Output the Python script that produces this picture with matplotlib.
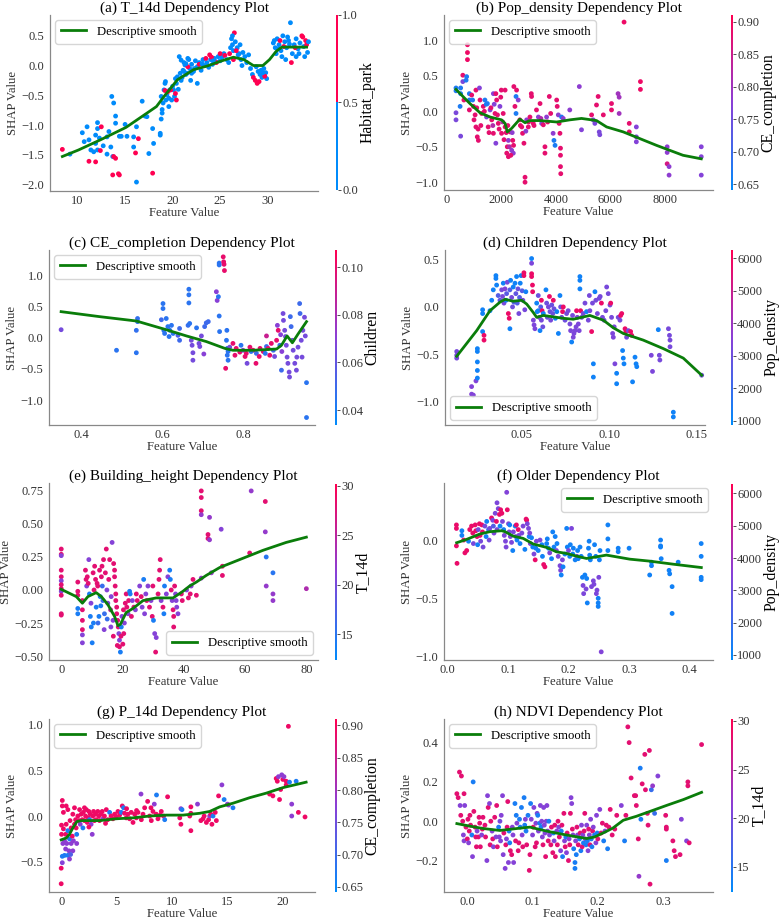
import matplotlib
matplotlib.use("Agg")
import matplotlib.pyplot as plt
from matplotlib.colors import LinearSegmentedColormap, ListedColormap

plt.rcParams['font.family'] = ['Liberation Serif', 'DejaVu Serif']

# ---------------- data (x, shap, colour value) ----------------
# (a) T_14d, coloured by Habitat_park
a_pts = [
    (8.4, -1.41, 1), (9.2, -1.49, 0), (10.5, -1.13, 0), (11.0, -1.03, 0), (11.2, -1.25, 0), (10.7, -1.28, 0),
    (11.4, -1.42, 0), (11.2, -1.61, 1), (11.7, -1.45, 0), (11.9, -1.31, 0), (11.9, -1.17, 0), (12.1, -1.06, 0),
    (12.1, -0.96, 0), (11.9, -1.62, 1), (12.1, -1.42, 0), (12.5, -1.03, 1), (12.4, -1.43, 1), (12.3, -1.22, 0),
    (12.7, -1.35, 0), (13.1, -1.49, 0), (13.1, -1.2, 0), (13.3, -1.11, 0), (13.5, -1.37, 0), (13.6, -0.52, 0),
    (13.7, -1.53, 0), (13.7, -1.84, 1), (13.8, -0.63, 0), (13.8, -1.53, 1), (14.0, -0.85, 0), (14.0, -0.97, 0),
    (14.0, -1.56, 1), (14.4, -1.84, 1), (14.3, -1.82, 1), (14.4, -1.19, 0), (14.6, -1.19, 0), (15.0, -0.99, 0),
    (15.2, -1.19, 0), (15.9, -1.37, 0), (15.9, -1.2, 0), (16.1, -1.47, 1), (16.2, -1.03, 0), (16.2, -1.96, 0),
    (16.4, -1.23, 1), (16.8, -0.6, 0), (17.1, -0.85, 0), (17.3, -0.86, 0), (17.5, -1.48, 0), (17.9, -1.06, 0),
    (17.9, -1.81, 1), (18.0, -1.31, 0), (18.7, -1.14, 0), (18.7, -1.17, 0),
    (18.8, -0.52, 0), (18.9, -0.74, 0), (18.8, -0.9, 0), (18.9, -0.8, 0), (19.0, -0.63, 0), (19.1, -0.41, 0),
    (19.2, -0.3, 0), (19.25, -0.27, 0), (19.3, -0.58, 0), (19.4, -0.49, 0), (19.6, -0.69, 0), (19.7, -0.41, 0),
    (19.9, -0.58, 0), (20.1, -0.41, 0), (20.2, -0.52, 0), (20.4, -0.3, 0), (20.5, -0.19, 0), (20.8, -0.13, 0),
    (20.9, -0.25, 0), (21.1, -0.08, 0), (21.3, 0.01, 0), (21.5, -0.13, 0), (21.7, 0.1, 0), (19.2, -0.42, 1),
    (19.5, -0.44, 1), (19.8, -0.41, 1), (20.3, -0.47, 1), (20.4, -0.58, 1), (20.0, -0.35, 0), (20.6, -0.4, 0),
    (20.3, -0.22, 0), (19.6, -0.55, 0),
    (21.0, -0.2, 0), (21.2, 0.05, 0), (21.4, -0.15, 0), (21.6, 0.12, 0), (21.8, -0.05, 0), (22.0, 0.02, 0),
    (22.2, -0.1, 0), (22.4, 0.08, 0), (22.6, -0.02, 0), (22.8, 0.05, 0), (23.0, -0.08, 0), (23.2, 0.1, 0),
    (23.4, 0.0, 0), (23.6, 0.05, 0), (23.8, -0.03, 0), (24.0, 0.1, 0), (24.2, 0.02, 0), (24.4, 0.12, 0),
    (24.6, 0.06, 0), (24.8, 0.15, 0), (25.0, 0.08, 0), (25.2, 0.14, 0), (25.4, 0.2, 0), (22.6, -0.3, 0),
    (21.9, -0.25, 0), (23.5, 0.12, 1), (24.1, 0.14, 1), (25.0, 0.2, 1), (25.5, 0.17, 1), (24.6, 0.05, 1),
    (22.8, 0.02, 1), (23.9, 0.18, 1), (21.6, -0.02, 1), (21.2, -0.1, 0), (22.0, -0.13, 0), (20.7, 0.15, 0),
    (20.9, 0.09, 0), (21.4, 0.03, 0), (22.3, -0.05, 0), (23.1, 0.03, 0), (24.3, 0.08, 0), (25.7, 0.1, 0),
    (25.9, 0.05, 0),
    (26.1, 0.3, 0), (26.2, 0.45, 0), (26.3, 0.35, 0), (26.4, 0.25, 0), (26.5, 0.55, 1), (26.6, 0.4, 0),
    (26.8, 0.3, 0), (27.0, 0.2, 0), (27.2, 0.1, 0), (27.4, 0.22, 0), (27.6, 0.15, 0), (27.8, 0.05, 0),
    (26.4, 0.1, 1), (26.9, 0.18, 0), (27.3, 0.0, 0), (26.0, 0.2, 1), (26.7, 0.25, 1), (28.0, 0.18, 0),
    (26.3, 0.5, 0), (27.1, 0.35, 0),
    (28.2, -0.05, 0), (28.4, -0.15, 0), (28.5, -0.2, 1), (28.7, -0.25, 1), (28.9, -0.3, 1), (29.0, -0.1, 0),
    (29.2, -0.15, 0), (29.4, -0.2, 0), (29.6, -0.05, 0), (29.8, -0.12, 0), (29.9, -0.22, 0), (29.7, -0.18, 1),
    (29.3, -0.08, 0), (28.8, -0.02, 0), (29.1, -0.27, 1), (29.5, -0.12, 0),
    (30.6, 0.38, 0), (30.8, 0.3, 0), (31.0, 0.45, 0), (31.2, 0.35, 0), (31.4, 0.25, 0), (31.6, 0.5, 0),
    (31.8, 0.4, 0), (32.0, 0.3, 0), (32.2, 0.42, 0), (32.4, 0.72, 0), (32.6, 0.2, 0), (32.8, 0.35, 0),
    (33.0, 0.45, 0), (33.2, 0.28, 0), (33.4, 0.38, 0), (33.6, 0.5, 1), (33.8, 0.32, 0), (34.0, 0.42, 1),
    (34.2, 0.22, 0), (31.5, 0.15, 0), (32.5, 0.05, 1), (33.0, 0.15, 0), (31.9, 0.1, 0), (33.7, 0.48, 1),
    (34.1, 0.35, 1), (32.9, 0.3, 1), (31.3, 0.42, 1), (30.9, 0.2, 0), (33.9, 0.15, 0), (32.1, 0.48, 0),
    (30.7, 0.42, 0), (31.1, 0.28, 0), (32.3, 0.36, 0), (33.3, 0.2, 0), (34.3, 0.4, 0), (31.7, 0.32, 1),
]
a_smooth_x = [8.4, 10.1, 12.4, 15.1, 17.3, 18.3, 19.1, 19.8, 20.5, 21.3, 22.2, 23.6, 25.0, 26.4, 27.5, 28.5,
              29.5, 30.2, 30.9, 31.5, 34.1]
a_smooth_y = [-1.53, -1.42, -1.25, -1.04, -0.8, -0.69, -0.52, -0.38, -0.24, -0.16, -0.07, -0.01, 0.07, 0.14,
              0.1, 0.0, 0.0, 0.1, 0.24, 0.31, 0.31]

# (b) Pop_density, coloured by CE_completion
b_pts = [
    (340, 0.33, 0.67), (340, 0.29, 0.67), (340, -0.02, 0.76), (340, -0.12, 0.76), (510, 0.33, 0.67),
    (510, 0.25, 0.67), (490, 0.07, 0.67), (510, -0.35, 0.76), (590, 0.51, 0.88), (590, 0.42, 0.76),
    (630, 0.16, 0.88), (710, 0.44, 0.67), (730, 0.49, 0.67), (760, 0.94, 0.89), (760, 0.83, 0.89),
    (760, 0.73, 0.89), (830, 0.25, 0.67), (830, 0.16, 0.67), (830, 0.02, 0.88), (915, 0.23, 0.88),
    (950, 0.16, 0.67), (980, 0.07, 0.88), (1040, -0.05, 0.88), (1070, 0.3, 0.88), (1070, -0.22, 0.88),
    (1120, -0.36, 0.88), (1160, -0.41, 0.88), (1200, 0.33, 0.77), (1220, 0.16, 0.88), (1280, -0.03, 0.88),
    (1340, 0.07, 0.88), (1400, 0.16, 0.67), (1460, -0.08, 0.77), (1490, 0.11, 0.67), (1520, -0.22, 0.88),
    (1590, 0.02, 0.77), (1650, -0.12, 0.88), (1710, 0.25, 0.77), (1710, -0.31, 0.88), (1770, -0.03, 0.88),
    (1800, -0.45, 0.77), (1830, 0.16, 0.88), (1890, -0.17, 0.88), (1950, 0.07, 0.77), (2010, -0.31, 0.88),
    (2070, -0.03, 0.88), (2140, 0.3, 0.88), (2140, -0.22, 0.88), (2200, -0.59, 0.88), (2220, -0.5, 0.88),
    (2260, -0.64, 0.88), (2260, -0.41, 0.78), (2320, -0.29, 0.88), (2380, -0.55, 0.78), (2420, -0.41, 0.88),
    (2440, -0.59, 0.78), (2460, 0.35, 0.88), (2500, 0.07, 0.88), (2540, 0.21, 0.67), (2540, -0.03, 0.67),
    (2560, 0.3, 0.88), (2620, 0.16, 0.78), (2680, -0.12, 0.88), (2750, -0.22, 0.88), (2780, -0.31, 0.88),
    (2830, -0.45, 0.88), (2870, -0.93, 0.88), (2870, -1.0, 0.88), (2930, -0.12, 0.78), (2990, -0.22, 0.88),
    (3050, -0.08, 0.88), (3110, 0.21, 0.88), (3170, -0.17, 0.88), (3290, 0.02, 0.88), (3360, -0.08, 0.78),
    (3420, 0.11, 0.88), (3480, -0.17, 0.78), (3540, -0.19, 0.88), (3600, -0.59, 0.88), (3600, -0.5, 0.88),
    (3660, -0.08, 0.78), (3760, 0.21, 0.88), (3810, -0.03, 0.88), (3900, -0.31, 0.78), (3930, -0.41, 0.67),
    (3970, -0.48, 0.67), (4030, 0.16, 0.88), (4050, 0.07, 0.88), (4090, -0.05, 0.78), (4120, -0.17, 0.88),
    (4150, -0.31, 0.88), (4170, -0.52, 0.88), (4170, -0.62, 0.88), (4170, -0.78, 0.88), (4180, -0.88, 0.88),
    (4210, -0.08, 0.67), (4270, -0.1, 0.78), (4510, 0.02, 0.78), (4860, 0.35, 0.78), (4940, -0.26, 0.77),
    (5310, -0.05, 0.88), (5370, -0.12, 0.77), (5430, -0.17, 0.76), (5490, 0.09, 0.88), (5550, 0.21, 0.88),
    (5590, -0.29, 0.76), (5610, -0.33, 0.76), (5740, -0.05, 0.88), (6040, 0.11, 0.88), (6040, 0.02, 0.88),
    (6280, 0.25, 0.8), (6320, 0.2, 0.8), (6320, -0.03, 0.8), (6500, 1.26, 0.89), (6690, -0.17, 0.88),
    (6690, -0.29, 0.88), (6950, -0.22, 0.77), (6950, -0.36, 0.77), (6950, -0.43, 0.77), (7100, 0.42, 0.89),
    (7100, 0.31, 0.89), (8080, -0.5, 0.78), (8080, -0.58, 0.78), (8080, -0.74, 0.86), (8150, -0.78, 0.78),
    (8150, -0.9, 0.78), (9330, -0.5, 0.77), (9330, -0.64, 0.77), (9330, -0.9, 0.77),
    (1000, -0.12, 0.88), (1100, 0.05, 0.88), (1250, -0.2, 0.88), (1380, 0.0, 0.88), (1550, -0.3, 0.88),
    (1620, 0.05, 0.88), (1690, -0.2, 0.82), (1740, 0.1, 0.77), (1860, -0.05, 0.88), (1920, -0.25, 0.88),
    (1980, 0.2, 0.88), (2050, -0.15, 0.82), (2100, -0.4, 0.88), (2180, -0.3, 0.88), (2240, -0.2, 0.88),
    (2300, -0.5, 0.82), (2350, -0.62, 0.88), (2400, -0.3, 0.78), (1450, 0.1, 0.67), (2450, -0.48, 0.88),
    (2700, -0.2, 0.88), (2900, -0.28, 0.78), (3000, -0.15, 0.88), (3200, -0.2, 0.88), (3450, -0.1, 0.82),
    (3700, -0.15, 0.88), (3100, 0.25, 0.88), (1800, 0.25, 0.88), (2000, 0.3, 0.88), (1150, -0.25, 0.88),
]
b_smooth_x = [340, 850, 1220, 1590, 2010, 2140, 2220, 2380, 2680, 2870, 3050, 3420, 4030, 4510, 4940, 5490,
              5860, 6470, 7690, 8660, 9330]
b_smooth_y = [0.31, 0.11, -0.02, -0.08, -0.12, -0.17, -0.29, -0.24, -0.11, -0.16, -0.13, -0.13, -0.15, -0.12,
              -0.1, -0.13, -0.22, -0.29, -0.48, -0.62, -0.67]

# (c) CE_completion, coloured by Children
c_pts = [
    (0.35, 0.13, 0.065), (0.487, -0.2, 0.045), (0.536, -0.24, 0.045), (0.536, 0.12, 0.047),
    (0.539, 0.31, 0.047), (0.539, 0.26, 0.047), (0.598, 0.29, 0.05), (0.602, 0.55, 0.045),
    (0.602, 0.47, 0.045), (0.604, 0.12, 0.045), (0.606, 0.07, 0.045), (0.61, 0.31, 0.045),
    (0.614, 0.18, 0.045), (0.617, 0.02, 0.045), (0.619, 0.12, 0.045), (0.623, 0.2, 0.045),
    (0.627, 0.07, 0.045), (0.639, 0.04, 0.055), (0.643, -0.04, 0.05), (0.643, 0.15, 0.05),
    (0.664, 0.2, 0.048), (0.666, 0.78, 0.045), (0.666, 0.69, 0.045), (0.666, 0.56, 0.045),
    (0.668, 0.23, 0.045), (0.672, -0.04, 0.065), (0.674, -0.12, 0.065), (0.676, -0.24, 0.065),
    (0.676, -0.36, 0.065), (0.685, 0.16, 0.045), (0.691, -0.09, 0.065), (0.693, -0.14, 0.065),
    (0.697, 0.03, 0.065), (0.703, -0.26, 0.07), (0.705, 0.18, 0.05), (0.709, 0.24, 0.05),
    (0.714, 0.26, 0.05), (0.734, 0.74, 0.07), (0.736, 0.6, 0.07), (0.739, 0.66, 0.045),
    (0.741, 0.35, 0.045), (0.741, 1.2, 0.045), (0.741, 1.17, 0.045), (0.742, 0.1, 0.045),
    (0.751, 1.3, 0.1), (0.752, 1.22, 0.1), (0.754, 1.08, 0.1), (0.753, 1.18, 0.1), (0.757, -0.49, 0.1),
    (0.759, -0.04, 0.045), (0.76, 0.12, 0.045), (0.761, -0.17, 0.045), (0.761, -0.28, 0.045),
    (0.763, -0.36, 0.045), (0.763, -0.22, 0.045),
    (0.767, -0.15, 0.065), (0.775, -0.09, 0.1), (0.783, -0.17, 0.1), (0.792, -0.23, 0.1),
    (0.8, -0.2, 0.07), (0.808, -0.25, 0.1), (0.81, -0.41, 0.065), (0.817, -0.15, 0.1), (0.825, -0.2, 0.1),
    (0.833, -0.25, 0.05), (0.832, -0.41, 0.1), (0.842, -0.17, 0.1), (0.85, -0.22, 0.1), (0.858, -0.14, 0.05),
    (0.858, 0.03, 0.09), (0.866, -0.28, 0.1), (0.87, -0.09, 0.1), (0.875, -0.2, 0.05), (0.883, -0.04, 0.1),
    (0.887, 0.12, 0.1), (0.891, -0.12, 0.05), (0.895, -0.52, 0.05), (0.899, 0.39, 0.065),
    (0.9, 0.28, 0.065), (0.903, 0.12, 0.065), (0.905, 0.02, 0.065), (0.907, -0.12, 0.065),
    (0.909, -0.31, 0.065), (0.911, -0.41, 0.065), (0.914, -0.55, 0.065), (0.915, -0.63, 0.065),
    (0.917, 0.34, 0.05), (0.919, 0.18, 0.05), (0.922, -0.04, 0.065), (0.924, -0.2, 0.065),
    (0.928, -0.41, 0.065), (0.932, -0.52, 0.065), (0.933, -0.31, 0.065), (0.936, -0.15, 0.065),
    (0.94, 0.55, 0.05), (0.941, 0.39, 0.05), (0.944, -0.04, 0.065), (0.946, -0.31, 0.065),
    (0.948, 0.12, 0.065), (0.952, 0.33, 0.065), (0.954, 0.03, 0.065), (0.957, -0.72, 0.045),
    (0.957, -1.28, 0.045), (0.78, -0.28, 0.1), (0.795, -0.12, 0.045), (0.805, -0.3, 0.1),
    (0.82, -0.22, 0.045), (0.84, -0.3, 0.1), (0.855, -0.25, 0.045), (0.862, -0.17, 0.1),
    (0.878, -0.3, 0.065), (0.885, 0.2, 0.07), (0.893, 0.05, 0.07), (0.896, -0.22, 0.07),
]
c_smooth_x = [0.35, 0.445, 0.536, 0.61, 0.66, 0.709, 0.755, 0.775, 0.825, 0.883, 0.895, 0.909, 0.922, 0.936, 0.957]
c_smooth_y = [0.42, 0.34, 0.27, 0.13, 0.03, -0.06, -0.17, -0.2, -0.2, -0.18, -0.12, 0.03, -0.08, 0.06, 0.26]

# (d) Children, coloured by Pop_density
d_pts = [
    (0.0129, -0.47, 3200), (0.0129, -0.51, 3200), (0.0129, -0.54, 3200), (0.0214, -0.84, 3400),
    (0.0214, -0.92, 3400), (0.0224, -0.93, 3400), (0.0239, -0.78, 3400), (0.0247, -0.44, 1200),
    (0.0247, -0.47, 1200), (0.0247, -0.58, 1200), (0.0247, -0.67, 1200), (0.0247, -0.75, 1200),
    (0.0277, -0.03, 1200), (0.0277, -0.07, 1200), (0.0277, -0.26, 1200), (0.0285, -0.3, 5800),
    (0.0285, -0.35, 5800), (0.0319, -0.04, 1200), (0.0329, 0.07, 1200), (0.0338, 0.18, 1200),
    (0.0353, 0.33, 1200), (0.0353, 0.3, 1200), (0.0357, 0.23, 1200), (0.0366, 0.12, 2500),
    (0.0376, 0.07, 2800), (0.0386, 0.18, 3200), (0.0391, 0.11, 3200), (0.0395, 0.25, 1200),
    (0.0399, 0.04, 3200), (0.0405, 0.19, 3400), (0.0411, 0.07, 1200), (0.0414, 0.14, 2600),
    (0.0418, 0.26, 3200), (0.0424, -0.07, 5800), (0.0429, -0.12, 5800), (0.0433, 0.18, 2500),
    (0.0433, -0.23, 1200), (0.0437, 0.28, 1200), (0.0443, 0.1, 3200), (0.0448, 0.0, 3000),
    (0.0452, 0.21, 1200), (0.0456, 0.05, 2500), (0.0462, 0.25, 1200), (0.0467, 0.14, 2800),
    (0.0471, 0.32, 1200), (0.0475, 0.04, 2500), (0.0479, 0.19, 3000), (0.0484, -0.07, 3200),
    (0.0488, 0.1, 2500), (0.0492, 0.25, 1200), (0.0497, 0.33, 1200), (0.0503, 0.17, 2500),
    (0.0507, 0.07, 3200), (0.0513, 0.36, 5800), (0.0513, 0.33, 5800), (0.0518, -0.03, 3200),
    (0.0524, 0.16, 1200), (0.0557, 0.51, 1200), (0.0557, 0.46, 3300), (0.0557, 0.35, 5800),
    (0.0557, 0.32, 5800), (0.0562, 0.23, 5800), (0.0563, 0.16, 5800), (0.0567, -0.14, 3300),
    (0.0571, -0.19, 3300), (0.0576, -0.23, 3300), (0.0586, 0.04, 1200), (0.0589, -0.05, 1200),
    (0.0595, -0.04, 1200), (0.0595, 0.12, 3000), (0.0601, -0.11, 3200), (0.0605, -0.25, 1200),
    (0.0609, 0.0, 2500), (0.0613, -0.14, 3200), (0.0613, 0.07, 5800), (0.0617, -0.04, 5800),
    (0.0621, -0.21, 3000), (0.0624, -0.07, 1200), (0.0639, 0.18, 1200), (0.0643, 0.04, 3000),
    (0.0647, -0.11, 3000), (0.0653, 0.0, 3200), (0.0659, 0.11, 5800), (0.0662, -0.05, 3000),
    (0.0666, -0.14, 3200), (0.0672, 0.02, 3000), (0.0678, -0.07, 3000), (0.0681, 0.07, 5800),
    (0.0685, -0.02, 3000), (0.0693, -0.12, 1200), (0.0701, -0.05, 1200), (0.071, -0.28, 1200),
    (0.0719, 0.12, 1200), (0.0723, 0.0, 3000), (0.0729, -0.11, 3000), (0.0734, -0.05, 5800),
    (0.0738, 0.0, 5800), (0.0748, -0.14, 3000), (0.0757, -0.07, 3200), (0.0766, -0.04, 3200),
    (0.0776, -0.18, 3200), (0.078, -0.25, 3300), (0.0786, -0.37, 1200), (0.0791, -0.09, 3200),
    (0.0795, -0.32, 3300), (0.0799, -0.28, 3300), (0.0805, -0.25, 3300), (0.0811, -0.21, 3300),
    (0.0814, -0.04, 5800), (0.0818, -0.11, 3300), (0.0824, -0.18, 3300), (0.0829, -0.25, 3300),
    (0.0833, 0.32, 1200), (0.0833, 0.28, 1200), (0.0833, 0.19, 1200), (0.0837, -0.04, 5800),
    (0.0843, -0.11, 3200), (0.0852, -0.07, 3200), (0.0862, 0.04, 3200), (0.0871, -0.05, 1200),
    (0.0881, -0.14, 3200), (0.0887, 0.12, 3200), (0.089, -0.04, 3200), (0.09, -0.26, 5800),
    (0.0905, 0.04, 3200), (0.091, -0.6, 1200), (0.091, -0.74, 1200), (0.0919, 0.16, 1200),
    (0.0924, 0.07, 3200), (0.0933, -0.07, 3200), (0.0943, 0.09, 3200), (0.0949, 0.11, 3200),
    (0.0956, 0.04, 5800), (0.0962, -0.11, 3200), (0.0971, -0.14, 3200), (0.0981, -0.04, 3200),
    (0.0986, 0.21, 3200), (0.0995, 0.14, 3200), (0.1005, 0.02, 3200), (0.1009, 0.04, 5800),
    (0.1014, -0.11, 3200), (0.102, -0.28, 3300), (0.1024, -0.32, 3300), (0.1029, -0.21, 3300),
    (0.1033, -0.6, 3300), (0.1043, -0.7, 1200), (0.1043, -0.81, 1200), (0.1052, -0.11, 3200),
    (0.1062, -0.14, 3200), (0.1066, -0.09, 5800), (0.1072, -0.07, 5800), (0.1077, -0.46, 1200),
    (0.1081, -0.54, 1200), (0.1085, -0.6, 1200), (0.1091, -0.23, 5800), (0.1096, -0.26, 5800),
    (0.11, -0.32, 3200), (0.111, -0.25, 3200), (0.1123, -0.26, 5800), (0.1129, -0.3, 5800),
    (0.1134, -0.79, 1200), (0.1148, -0.53, 1200), (0.1154, -0.6, 1200), (0.1158, -0.63, 1200),
    (0.1281, -0.24, 1200), (0.1287, -0.51, 3200), (0.129, -0.56, 3200), (0.1339, -0.23, 3200),
    (0.1345, -0.3, 3200), (0.1348, -0.35, 3200), (0.1348, -0.42, 3200), (0.1367, -1.11, 1200),
    (0.1367, -1.16, 1200), (0.1529, -0.72, 3200), (0.1241, -0.51, 3300), (0.1248, -0.68, 3300),
]
d_smooth_x = [0.0129, 0.0243, 0.0319, 0.0376, 0.0405, 0.0452, 0.05, 0.0529, 0.0567, 0.0586, 0.0624, 0.0738,
              0.0795, 0.089, 0.0967, 0.1024, 0.1081, 0.1195, 0.131, 0.1424, 0.1529]
d_smooth_y = [-0.52, -0.25, -0.04, 0.05, 0.08, 0.06, 0.07, 0.03, -0.06, -0.11, -0.09, -0.12, -0.13, -0.09,
              -0.14, -0.22, -0.28, -0.35, -0.44, -0.54, -0.72]

# (e) Building_height, coloured by T_14d
e_pts = [
    (0.0, 0.31, 28), (0.0, 0.27, 28), (0.0, 0.26, 21), (0.0, 0.15, 28), (0.0, 0.1, 28), (0.0, 0.07, 21),
    (0.0, 0.04, 28), (0.0, 0.01, 28), (0.0, -0.01, 21), (0.0, -0.04, 28), (0.0, -0.18, 28), (0.0, -0.19, 28),
    (5.4, 0.06, 28), (5.4, -0.01, 28), (5.4, -0.04, 28), (5.4, -0.14, 14), (5.4, -0.18, 14),
    (6.9, -0.08, 28), (6.9, -0.15, 28), (6.9, -0.23, 28), (6.9, -0.3, 28), (6.9, -0.34, 21), (6.9, -0.4, 21),
    (7.9, 0.15, 28), (8.1, 0.08, 28), (8.3, 0.03, 21), (8.5, 0.1, 28), (9.0, 0.23, 21), (9.2, -0.03, 14),
    (9.5, -0.2, 14), (9.8, -0.28, 14), (10.1, -0.4, 14), (10.4, 0.13, 28), (10.9, 0.18, 28), (11.2, 0.08, 28),
    (11.4, -0.13, 14), (11.9, 0.03, 28), (12.3, -0.2, 14), (12.5, 0.15, 28), (12.7, -0.05, 14),
    (13.1, 0.1, 28), (13.4, 0.03, 16), (13.6, -0.08, 16), (13.8, 0.23, 28), (14.1, -0.18, 16),
    (14.4, 0.13, 28), (14.7, 0.31, 28), (14.9, 0.0, 21), (15.2, -0.1, 21), (15.5, 0.08, 28),
    (15.8, 0.23, 28), (16.1, -0.15, 25), (16.6, 0.36, 21), (16.3, -0.05, 21), (16.9, -0.23, 21),
    (17.1, 0.2, 28), (17.4, 0.15, 28), (17.4, 0.1, 28), (17.6, 0.03, 28), (17.8, -0.03, 28),
    (17.8, -0.08, 28), (18.1, -0.13, 28), (18.1, -0.18, 28), (18.4, -0.23, 28), (18.6, -0.28, 28),
    (18.8, -0.33, 21), (19.0, -0.38, 21), (19.0, -0.43, 28), (19.3, -0.47, 14), (19.6, -0.28, 14),
    (19.8, -0.2, 21), (20.1, -0.41, 28), (20.4, -0.33, 28), (20.6, -0.25, 21), (20.9, -0.1, 28),
    (21.2, -0.03, 28), (21.4, -0.13, 28), (21.8, -0.18, 21), (22.0, -0.08, 28), (22.3, -0.01, 14),
    (22.5, -0.03, 14), (22.9, -0.2, 28), (23.2, -0.08, 21), (23.7, -0.13, 28), (24.2, -0.15, 21),
    (24.5, -0.03, 28), (24.8, -0.08, 28), (25.6, 0.03, 21), (26.1, -0.05, 28), (26.4, -0.13, 21),
    (26.9, 0.08, 14), (27.2, -0.18, 21), (27.6, -0.03, 21), (27.9, -0.08, 28), (28.3, 0.03, 21),
    (28.8, -0.13, 28), (29.3, -0.08, 21), (29.7, -0.2, 28), (29.9, 0.03, 28), (30.1, -0.23, 14),
    (30.5, -0.33, 21), (30.8, -0.47, 28), (31.0, -0.36, 21), (31.6, -0.03, 28), (31.9, 0.08, 28),
    (32.1, 0.15, 28), (32.3, 0.23, 28), (32.6, -0.08, 21), (33.2, -0.13, 28), (33.5, -0.18, 14),
    (33.7, 0.03, 14), (34.3, -0.03, 21), (34.8, 0.1, 21), (35.4, 0.15, 14), (35.6, 0.08, 14),
    (35.9, 0.0, 28), (36.2, -0.08, 21), (36.5, -0.15, 28), (36.7, -0.2, 28), (36.7, -0.28, 28),
    (37.0, 0.03, 28), (37.3, -0.03, 21), (37.5, -0.08, 21), (37.7, -0.13, 21), (38.1, -0.18, 21),
    (39.2, -0.03, 28), (39.5, -0.08, 28), (40.9, 0.0, 21), (41.5, -0.06, 28), (42.1, -0.03, 28),
    (42.4, 0.03, 21), (43.0, 0.08, 28), (44.1, -0.04, 28),
    (45.7, 0.75, 28), (45.7, 0.7, 28), (45.7, 0.6, 28), (45.7, 0.57, 22), (45.7, 0.09, 22),
    (47.9, 0.42, 28), (47.9, 0.39, 28), (48.4, 0.55, 22), (48.4, 0.38, 22), (49.0, 0.13, 22),
    (52.2, 0.46, 21), (52.6, 0.18, 28), (52.6, 0.11, 28), (61.5, 0.28, 28), (62.0, 0.75, 22),
    (66.6, 0.67, 28), (66.6, 0.44, 22), (66.9, 0.25, 15), (66.9, 0.03, 22), (69.1, 0.13, 15),
    (69.1, -0.03, 22), (69.1, -0.08, 22), (80.0, 0.01, 24),
    (8.8, 0.05, 28), (9.7, -0.1, 21), (10.7, 0.0, 28), (11.7, 0.05, 28), (12.9, -0.12, 14), (13.3, 0.18, 28),
    (16.2, -0.28, 21), (17.0, -0.35, 28), (18.3, -0.42, 28), (19.5, -0.35, 28), (20.3, -0.15, 28),
    (15.0, -0.22, 16), (14.0, -0.3, 21), (10.5, -0.25, 14), (12.0, -0.25, 16),
]
e_smooth_x = [0.0, 4.9, 6.9, 8.7, 11.4, 13.1, 15.2, 17.4, 18.5, 19.3, 21.2, 23.4, 26.7, 31.0, 36.5, 39.7,
              41.9, 44.1, 47.3, 51.7, 58.2, 65.8, 73.4, 80.0]
e_smooth_y = [0.005, -0.05, -0.1, -0.05, -0.02, -0.05, -0.11, -0.2, -0.27, -0.26, -0.17, -0.14, -0.08,
              -0.06, -0.06, -0.01, 0.03, 0.06, 0.11, 0.17, 0.23, 0.3, 0.36, 0.4]

# (f) Older, coloured by Pop_density
f_pts = [
    (0.015, 0.13, 5800), (0.015, 0.1, 5800), (0.015, -0.05, 5800), (0.016, -0.2, 5800), (0.024, 0.08, 1200),
    (0.024, 0.04, 1200), (0.027, 0.0, 5800), (0.029, -0.11, 5800), (0.032, -0.09, 5800), (0.035, -0.01, 1200),
    (0.037, 0.09, 5800), (0.04, 0.12, 5800), (0.042, 0.06, 5800), (0.043, -0.03, 3200), (0.046, 0.13, 5800),
    (0.047, 0.08, 5800), (0.049, 0.03, 5800), (0.05, -0.04, 1200), (0.051, 0.09, 3200), (0.053, 0.14, 5800),
    (0.054, 0.04, 5800), (0.055, -0.01, 3200), (0.057, 0.13, 5800), (0.058, 0.07, 5800), (0.059, -0.06, 3200),
    (0.062, 0.12, 3200), (0.064, 0.03, 1200), (0.065, 0.16, 1200), (0.068, 0.09, 2000), (0.069, 0.0, 3200),
    (0.07, 0.1, 3200), (0.073, 0.19, 5800), (0.075, 0.17, 3300), (0.076, 0.12, 2500), (0.077, 0.06, 3300),
    (0.079, 0.23, 3300), (0.081, 0.16, 5800), (0.082, 0.09, 3300), (0.082, 0.32, 3300), (0.084, 0.27, 3300),
    (0.086, 0.22, 5800), (0.087, 0.12, 1200), (0.088, 0.26, 5800), (0.09, 0.23, 5800), (0.091, 0.16, 3300),
    (0.093, 0.09, 1200), (0.094, 0.04, 3300), (0.096, -0.01, 3300), (0.097, -0.06, 3300), (0.098, 0.41, 3400),
    (0.099, 0.26, 5800), (0.101, 0.14, 3300), (0.102, 0.07, 3300), (0.103, 0.13, 1200), (0.104, 0.03, 3300),
    (0.106, -0.02, 3300), (0.108, -0.09, 1200), (0.109, 0.07, 3300), (0.112, 0.12, 1200), (0.113, 0.03, 3300),
    (0.114, 0.13, 5800), (0.115, 0.0, 1200), (0.117, 0.09, 5800), (0.118, 0.04, 3300), (0.12, -0.03, 1200),
    (0.123, 0.06, 3300), (0.125, 0.12, 3300), (0.128, -0.08, 1200), (0.13, 0.18, 5800), (0.131, 0.17, 5800),
    (0.132, 0.14, 3300), (0.134, 0.1, 3300), (0.135, 0.03, 1200), (0.136, 0.06, 3300), (0.137, -0.03, 3300),
    (0.139, 0.02, 1200), (0.141, -0.06, 1200), (0.143, -0.12, 3300), (0.145, -0.17, 5800), (0.146, -0.07, 1200),
    (0.147, -0.01, 3300), (0.15, -0.09, 1200), (0.153, 0.0, 3300), (0.156, -0.04, 1200), (0.157, -0.14, 1200),
    (0.159, -0.21, 5800), (0.161, -0.23, 5800), (0.164, -0.03, 1200), (0.165, 0.01, 1200), (0.167, -0.07, 1200),
    (0.169, -0.11, 3300), (0.172, -0.16, 1200), (0.174, 0.07, 1200), (0.176, -0.06, 1200), (0.178, 0.03, 1200),
    (0.18, -0.09, 3300), (0.181, -0.03, 1200), (0.183, -0.14, 3300), (0.186, -0.22, 3300), (0.187, -0.26, 3300),
    (0.188, -0.3, 1200), (0.19, -0.17, 3300), (0.191, -0.23, 1200), (0.194, -0.12, 1200), (0.197, 0.1, 1200),
    (0.198, -0.06, 1200), (0.2, -0.09, 3300), (0.202, -0.14, 1200), (0.203, -0.04, 1200), (0.205, 0.1, 3300),
    (0.207, -0.12, 1200), (0.208, -0.07, 1200), (0.211, -0.17, 1200), (0.214, -0.14, 3300), (0.215, -0.09, 1200),
    (0.216, -0.16, 1200), (0.219, -0.06, 1200), (0.221, -0.14, 1200), (0.223, -0.32, 1200), (0.224, -0.39, 3300),
    (0.225, -0.46, 3300), (0.227, -0.3, 1200), (0.229, -0.42, 3300), (0.23, -0.33, 1200), (0.231, -0.54, 1200),
    (0.233, -0.07, 1200), (0.234, -0.01, 1200), (0.235, -0.13, 1200), (0.236, -0.17, 1200), (0.238, -0.4, 3300),
    (0.241, -0.35, 3300), (0.242, -0.38, 3300), (0.243, -0.04, 1200), (0.245, -0.14, 1200), (0.246, -0.46, 3300),
    (0.247, -0.43, 3300), (0.249, -0.5, 1200), (0.249, -0.54, 1200), (0.249, -0.57, 1200), (0.25, -0.32, 3300),
    (0.251, -0.17, 1200), (0.252, -0.09, 1200), (0.254, -0.96, 3400), (0.265, 0.13, 1200), (0.265, 0.01, 1200),
    (0.265, -0.09, 1200), (0.282, -0.07, 1200), (0.282, -0.1, 1200), (0.3, -0.07, 1200), (0.337, -0.19, 1200),
    (0.337, -0.22, 1200), (0.334, -0.3, 1200), (0.352, 0.0, 1200), (0.352, -0.05, 1200), (0.352, -0.06, 1200),
    (0.353, -0.16, 1200), (0.366, -0.26, 1200), (0.367, -0.29, 1200), (0.371, -0.4, 1200), (0.371, -0.63, 1200),
    (0.381, -0.19, 1200), (0.419, -0.03, 1200), (0.419, -0.14, 1200), (0.419, -0.32, 1200), (0.419, -0.34, 1200),
]
f_smooth_x = [0.0154, 0.0319, 0.0538, 0.0703, 0.0896, 0.0951, 0.1088, 0.1253, 0.1418, 0.1637, 0.1802, 0.1967,
              0.2132, 0.2297, 0.2462, 0.2626, 0.2791, 0.3011, 0.3341, 0.3725, 0.4192]
f_smooth_y = [-0.023, 0.006, 0.052, 0.072, 0.08, 0.072, 0.034, 0.014, -0.034, -0.063, -0.101, -0.115, -0.138,
              -0.158, -0.144, -0.129, -0.144, -0.164, -0.181, -0.207, -0.236]

# (g) P_14d, coloured by CE_completion
g_pts = [
    (0.0, -0.74, 0.89), (0.0, -0.57, 0.89), (0.1, -0.51, 0.77), (0.1, -0.44, 0.67), (0.03, -0.2, 0.89),
    (0.03, -0.1, 0.89), (0.1, 0.11, 0.89), (0.1, 0.17, 0.89), (0.15, -0.3, 0.78), (0.2, 0.04, 0.89),
    (0.2, -0.14, 0.89), (0.3, -0.27, 0.78), (0.3, -0.43, 0.67), (0.4, -0.36, 0.78), (0.4, -0.2, 0.89),
    (0.45, -0.09, 0.89), (0.45, 0.11, 0.89), (0.5, -0.3, 0.78), (0.6, -0.43, 0.67), (0.6, -0.16, 0.67),
    (0.7, -0.38, 0.78), (0.75, -0.47, 0.78), (0.75, -0.25, 0.67), (0.8, -0.05, 0.89), (0.9, -0.3, 0.78),
    (0.9, -0.13, 0.89), (1.0, -0.22, 0.89), (1.05, -0.38, 0.78), (1.05, 0.02, 0.89), (1.1, -0.27, 0.78),
    (1.2, -0.09, 0.89), (1.2, 0.09, 0.89), (1.3, -0.04, 0.89), (1.35, -0.13, 0.89), (1.4, -0.2, 0.67),
    (1.5, 0.0, 0.89), (1.6, -0.05, 0.89), (1.66, 0.07, 0.89), (1.72, -0.09, 0.78), (1.8, 0.02, 0.89),
    (1.9, -0.04, 0.89), (1.96, -0.13, 0.67), (2.0, 0.04, 0.89), (2.1, -0.05, 0.89), (2.2, 0.0, 0.89),
    (2.27, 0.07, 0.89), (2.35, -0.07, 0.89), (2.45, -0.02, 0.89), (2.5, 0.05, 0.89), (2.56, -0.04, 0.67),
    (2.62, 0.02, 0.89), (2.7, -0.09, 0.78), (2.8, -0.2, 0.78), (2.86, 0.0, 0.89), (2.92, 0.05, 0.89),
    (3.0, -0.05, 0.89), (3.1, 0.02, 0.89), (3.16, -0.04, 0.89), (3.3, 0.05, 0.89), (3.4, 0.0, 0.89),
    (3.46, -0.05, 0.89), (3.6, 0.02, 0.89), (3.78, -0.03, 0.78), (3.9, 0.0, 0.89), (4.07, 0.07, 0.89),
    (4.2, -0.04, 0.89), (4.37, 0.04, 0.67), (4.5, 0.0, 0.89), (4.67, -0.03, 0.89), (4.82, 0.02, 0.89),
    (4.97, -0.01, 0.89), (5.12, 0.05, 0.89), (5.27, 0.01, 0.89), (5.42, 0.04, 0.67), (5.51, 0.11, 0.89),
    (5.63, 0.09, 0.67), (5.72, 0.03, 0.89), (5.87, -0.02, 0.89), (6.02, 0.02, 0.89), (6.17, -0.03, 0.89),
    (6.32, 0.04, 0.89), (6.48, -0.07, 0.89), (6.63, 0.02, 0.89), (6.78, -0.02, 0.89), (6.93, 0.04, 0.89),
    (7.2, 0.24, 0.78), (7.23, -0.04, 0.89), (7.38, 0.02, 0.89), (7.53, 0.09, 0.89), (7.8, 0.16, 0.89),
    (7.98, 0.0, 0.89), (8.13, -0.05, 0.89), (8.28, 0.05, 0.89), (8.4, 0.13, 0.78), (8.58, 0.02, 0.89),
    (8.6, 0.23, 0.67), (8.73, -0.03, 0.89), (8.94, 0.01, 0.89), (9.03, 0.05, 0.89), (9.24, 0.0, 0.89),
    (9.34, -0.04, 0.67), (9.6, 0.21, 0.89), (10.7, -0.02, 0.89), (10.8, 0.08, 0.78), (10.8, -0.09, 0.89),
    (10.9, 0.07, 0.67), (11.6, 0.0, 0.89), (11.7, 0.03, 0.89), (11.7, -0.16, 0.89), (11.7, 0.1, 0.89),
    (12.3, 0.13, 0.78), (12.6, -0.05, 0.89), (12.8, -0.03, 0.89), (12.9, 0.0, 0.89), (13.1, -0.07, 0.89),
    (13.3, -0.04, 0.89), (13.4, 0.0, 0.78), (13.5, 0.02, 0.89), (13.6, -0.09, 0.89), (13.7, 0.0, 0.67),
    (13.9, 0.04, 0.89), (14.0, -0.05, 0.89), (14.2, 0.22, 0.89), (14.5, 0.34, 0.78), (14.7, 0.18, 0.67),
    (15.0, 0.13, 0.78), (15.1, 0.12, 0.78), (15.5, 0.09, 0.67), (18.8, 0.24, 0.89), (19.1, 0.22, 0.89),
    (19.4, 0.41, 0.89), (19.5, 0.38, 0.89), (19.6, 0.43, 0.78), (19.7, 0.18, 0.89), (19.8, 0.29, 0.89),
    (19.9, 0.45, 0.78), (20.0, 0.4, 0.89), (20.1, 0.43, 0.78), (20.3, 0.38, 0.89), (20.3, 0.34, 0.89),
    (20.5, 0.98, 0.89), (20.6, 0.37, 0.67), (20.8, 0.0, 0.78), (20.8, 0.13, 0.78), (21.2, 0.38, 0.67),
    (21.4, 0.04, 0.89), (22.0, -0.01, 0.89),
    (0.6, 0.07, 0.89), (1.4, -0.3, 0.78), (0.85, -0.42, 0.72), (2.1, 0.09, 0.89), (3.7, 0.05, 0.89),
    (5.9, 0.08, 0.89), (6.8, 0.06, 0.89), (8.1, 0.09, 0.89), (4.0, -0.08, 0.89), (2.5, -0.12, 0.89),
]
g_smooth_x = [0.0, 0.45, 0.75, 1.05, 1.42, 1.81, 2.56, 3.46, 4.97, 6.48, 7.98, 9.49, 10.99, 12.5, 13.4, 14.3,
              15.5, 17.0, 18.5, 20.0, 22.1]
g_smooth_y = [-0.26, -0.24, -0.2, -0.13, -0.06, -0.05, -0.05, -0.05, -0.03, -0.02, 0.0, 0.01, 0.01, 0.03, 0.05,
              0.1, 0.14, 0.2, 0.25, 0.31, 0.37]

# (h) NDVI, coloured by T_14d
h_pts = [
    (-0.016, 0.14, 28), (-0.012, 0.25, 28), (-0.014, 0.12, 28), (-0.011, 0.08, 21), (-0.01, 0.03, 28),
    (-0.009, 0.23, 28), (-0.007, 0.0, 28), (-0.006, -0.07, 21), (-0.005, 0.14, 28), (-0.005, -0.1, 21),
    (-0.004, 0.08, 21), (-0.002, -0.03, 28), (0.001, 0.01, 28), (0.0, -0.09, 28), (0.002, -0.11, 21),
    (0.003, -0.05, 28), (0.004, 0.03, 28), (0.005, -0.02, 28), (0.007, -0.07, 14), (0.008, -0.18, 21),
    (0.009, 0.2, 14), (0.01, 0.05, 28), (0.012, -0.03, 28), (0.013, -0.08, 28), (0.014, -0.13, 28),
    (0.015, -0.05, 21), (0.017, -0.08, 28), (0.018, 0.02, 28), (0.019, -0.01, 28), (0.02, -0.13, 28),
    (0.022, -0.07, 21), (0.023, -0.04, 28), (0.024, 0.02, 28), (0.027, -0.02, 28), (0.028, -0.08, 28),
    (0.03, -0.2, 21), (0.031, 0.13, 21), (0.032, 0.07, 28), (0.034, 0.09, 21), (0.035, -0.12, 28),
    (0.036, 0.0, 28), (0.038, -0.05, 21), (0.039, -0.09, 28), (0.04, -0.13, 21), (0.042, 0.02, 28),
    (0.044, -0.08, 21), (0.045, 0.08, 28), (0.046, -0.13, 28), (0.048, -0.03, 14), (0.049, -0.08, 21),
    (0.05, 0.0, 20), (0.051, -0.1, 21), (0.052, 0.03, 21), (0.054, 0.13, 21), (0.055, -0.17, 21),
    (0.056, -0.06, 28), (0.058, -0.24, 21), (0.059, -0.12, 28), (0.06, -0.09, 21), (0.061, -0.03, 28),
    (0.062, 0.1, 28), (0.063, -0.21, 21), (0.064, -0.05, 14), (0.065, -0.11, 14), (0.066, -0.15, 28),
    (0.068, -0.17, 28), (0.069, -0.03, 21), (0.07, -0.07, 21), (0.071, -0.21, 21), (0.073, 0.09, 14),
    (0.074, -0.1, 28), (0.075, 0.03, 14), (0.076, -0.01, 21), (0.078, -0.15, 28), (0.079, -0.11, 28),
    (0.08, 0.01, 14), (0.081, -0.03, 14), (0.083, 0.07, 14), (0.084, -0.07, 21), (0.085, -0.13, 28),
    (0.087, 0.12, 14), (0.088, -0.02, 14), (0.089, 0.01, 21), (0.09, -0.05, 14), (0.091, -0.12, 28),
    (0.093, 0.03, 14), (0.095, -0.25, 28), (0.096, -0.17, 28), (0.097, 0.09, 14), (0.098, 0.01, 21),
    (0.1, -0.07, 21), (0.101, -0.03, 28), (0.102, 0.07, 21), (0.104, -0.13, 28), (0.105, -0.01, 21),
    (0.106, -0.11, 28), (0.107, 0.04, 20), (0.108, 0.03, 14), (0.109, -0.05, 21), (0.111, -0.01, 14),
    (0.112, 0.08, 21), (0.113, -0.03, 14), (0.114, 0.0, 21), (0.115, -0.08, 21), (0.116, -0.12, 28),
    (0.117, 0.07, 21), (0.118, -0.02, 21), (0.119, -0.06, 21), (0.12, -0.18, 28), (0.121, 0.0, 21),
    (0.122, 0.08, 21), (0.123, -0.05, 21), (0.124, -0.1, 28), (0.125, 0.0, 14), (0.126, -0.07, 21),
    (0.128, -0.12, 28), (0.129, -0.03, 28), (0.131, -0.16, 28), (0.132, -0.06, 14), (0.133, -0.1, 21),
    (0.134, -0.02, 28), (0.135, -0.18, 28), (0.137, -0.05, 21), (0.138, -0.12, 28), (0.139, 0.0, 28),
    (0.14, -0.03, 21), (0.141, -0.08, 28), (0.143, -0.15, 21), (0.144, -0.05, 14), (0.145, -0.02, 28),
    (0.146, -0.18, 14), (0.148, 0.04, 28), (0.149, -0.1, 21), (0.15, -0.13, 28), (0.151, -0.08, 14),
    (0.152, -0.16, 21), (0.153, -0.06, 28), (0.155, -0.2, 28), (0.156, -0.09, 21), (0.157, -0.12, 28),
    (0.158, 0.04, 28), (0.159, 0.12, 21), (0.16, 0.09, 21), (0.161, -0.04, 28), (0.162, -0.07, 21),
    (0.163, -0.14, 14), (0.165, -0.24, 14), (0.165, -0.21, 14), (0.166, -0.1, 21), (0.167, -0.17, 14),
    (0.168, -0.03, 28), (0.169, -0.07, 21), (0.17, -0.12, 28), (0.172, -0.09, 14), (0.173, -0.06, 28),
    (0.174, -0.15, 14), (0.175, -0.02, 21), (0.176, -0.13, 28), (0.177, -0.07, 21), (0.178, -0.11, 14),
    (0.179, -0.05, 28), (0.18, 0.04, 28), (0.181, -0.09, 21), (0.182, -0.12, 14), (0.183, -0.02, 21),
    (0.184, -0.1, 14), (0.185, -0.15, 21), (0.186, -0.04, 28), (0.187, -0.07, 21), (0.188, -0.12, 28),
    (0.189, 0.01, 21), (0.19, -0.09, 14), (0.191, -0.13, 14), (0.192, -0.05, 28), (0.193, -0.03, 21),
    (0.195, -0.07, 14), (0.197, -0.11, 21), (0.198, 0.03, 21), (0.199, -0.06, 14), (0.2, -0.09, 28),
    (0.203, 0.06, 21), (0.205, -0.06, 28), (0.207, -0.01, 28), (0.209, -0.1, 14), (0.211, -0.05, 21),
    (0.213, -0.02, 28), (0.215, -0.14, 14), (0.217, -0.03, 28), (0.219, 0.06, 28), (0.222, -0.07, 28),
    (0.226, -0.04, 28), (0.229, 0.03, 28), (0.236, 0.08, 21), (0.241, -0.1, 14), (0.243, 0.03, 28),
    (0.246, 0.48, 28), (0.248, 0.4, 28), (0.251, 0.22, 28), (0.256, 0.13, 28), (0.258, 0.13, 28),
    (0.259, 0.08, 28), (0.262, -0.09, 28), (0.263, -0.28, 22), (0.265, 0.27, 14), (0.266, 0.01, 14),
    (0.268, 0.19, 28), (0.272, 0.34, 28), (0.273, 0.16, 28), (0.276, 0.04, 28), (0.277, -0.02, 28),
    (0.279, 0.36, 28), (0.28, -0.32, 28), (0.282, 0.16, 16), (0.284, 0.18, 22), (0.287, 0.04, 16),
    (0.292, 0.23, 21), (0.304, 0.03, 28), (0.305, -0.03, 28), (0.305, -0.04, 28), (0.305, -0.2, 14),
    (0.315, -0.1, 28), (0.317, -0.15, 28), (0.319, -0.18, 28), (0.326, -0.17, 28), (0.328, 0.01, 21),
    (0.336, -0.1, 21), (0.338, 0.2, 28), (0.338, 0.18, 28), (0.34, -0.11, 28), (0.359, 0.39, 28),
]
h_smooth_x = [-0.016, 0.004, 0.024, 0.05, 0.076, 0.096, 0.111, 0.127, 0.147, 0.167, 0.183, 0.195, 0.208,
              0.223, 0.239, 0.259, 0.28, 0.305, 0.331, 0.359]
h_smooth_y = [-0.012, -0.025, -0.037, -0.047, -0.037, -0.03, -0.042, -0.054, -0.067, -0.079, -0.088, -0.08,
              -0.06, -0.035, 0.005, 0.025, 0.05, 0.08, 0.11, 0.147]

# ---------------- styling / layout ----------------
shap_cmap = LinearSegmentedColormap.from_list('shap_red_blue', ['#008bfb', '#8a3fd6', '#ff0051'])
binary_cmap = ListedColormap(['#008bfb', '#ff0051'])

panels = [
    dict(title='(a) T_14d Dependency Plot', pts=a_pts, sx=a_smooth_x, sy=a_smooth_y, clabel='Habitat_park',
         cmap=binary_cmap, cr=(0, 1), cticks=[0.0, 0.5, 1.0], cfmt='{:.1f}',
         xlim=(7.1, 35.3), ylim=(-2.11, 0.85), xticks=[10, 15, 20, 25, 30],
         yticks=[-2.0, -1.5, -1.0, -0.5, 0.0, 0.5], yfmt='{:.1f}', leg='upper left',
         box=(50, 15, 318, 191), cbox=(336, 15, 190)),
    dict(title='(b) Pop_density Dependency Plot', pts=b_pts, sx=b_smooth_x, sy=b_smooth_y, clabel='CE_completion',
         cmap=shap_cmap, cr=(0.641, 0.91), cticks=[0.65, 0.70, 0.75, 0.80, 0.85, 0.90], cfmt='{:.2f}',
         xlim=(-100, 9760), ylim=(-1.11, 1.36), xticks=[0, 2000, 4000, 6000, 8000],
         yticks=[-1.0, -0.5, 0.0, 0.5, 1.0], yfmt='{:.1f}', leg='upper left',
         box=(444, 15, 713, 190), cbox=(731, 15, 190)),
    dict(title='(c) CE_completion Dependency Plot', pts=c_pts, sx=c_smooth_x, sy=c_smooth_y, clabel='Children',
         cmap=shap_cmap, cr=(0.0337, 0.1073), cticks=[0.04, 0.06, 0.08, 0.10], cfmt='{:.2f}',
         xlim=(0.32, 0.978), ylim=(-1.40, 1.41), xticks=[0.4, 0.6, 0.8],
         yticks=[-1.0, -0.5, 0.0, 0.5, 1.0], yfmt='{:.1f}', leg='upper left',
         box=(49, 250, 315, 425), cbox=(335, 250, 425)),
    dict(title='(d) Children Dependency Plot', pts=d_pts, sx=d_smooth_x, sy=d_smooth_y, clabel='Pop_density',
         cmap=shap_cmap, cr=(867, 6257), cticks=[1000, 2000, 3000, 4000, 5000, 6000], cfmt='{:.0f}',
         xlim=(0.0062, 0.1548), ylim=(-1.245, 0.6), xticks=[0.05, 0.10, 0.15],
         yticks=[-1.0, -0.5, 0.0, 0.5], yfmt='{:.1f}', xfmt='{:.2f}', leg='lower left',
         box=(445, 250, 705, 425), cbox=(731, 250, 425)),
    dict(title='(e) Building_height Dependency Plot', pts=e_pts, sx=e_smooth_x, sy=e_smooth_y, clabel='T_14d',
         cmap=shap_cmap, cr=(12.4, 30.2), cticks=[15, 20, 25, 30], cfmt='{:.0f}',
         xlim=(-4.0, 83.8), ylim=(-0.53, 0.81), xticks=[0, 20, 40, 60, 80],
         yticks=[-0.5, -0.25, 0.0, 0.25, 0.5, 0.75], yfmt='{:.2f}', leg='lower right',
         box=(49, 483, 318, 660), cbox=(335, 484, 660)),
    dict(title='(f) Older Dependency Plot', pts=f_pts, sx=f_smooth_x, sy=f_smooth_y, clabel='Pop_density',
         cmap=shap_cmap, cr=(845, 6290), cticks=[1000, 2000, 3000, 4000, 5000, 6000], cfmt='{:.0f}',
         xlim=(-0.0055, 0.4385), ylim=(-1.03, 0.49), xticks=[0.0, 0.1, 0.2, 0.3, 0.4],
         yticks=[-1.0, -0.5, 0.0], yfmt='{:.1f}', xfmt='{:.1f}', leg='upper right',
         box=(444, 483, 713, 660), cbox=(731, 484, 660)),
    dict(title='(g) P_14d Dependency Plot', pts=g_pts, sx=g_smooth_x, sy=g_smooth_y, clabel='CE_completion',
         cmap=shap_cmap, cr=(0.642, 0.91), cticks=[0.65, 0.70, 0.75, 0.80, 0.85, 0.90], cfmt='{:.2f}',
         xlim=(-1.1, 22.9), ylim=(-0.83, 1.06), xticks=[0, 5, 10, 15, 20],
         yticks=[-0.5, 0.0, 0.5, 1.0], yfmt='{:.1f}', leg='upper left',
         box=(49, 719, 315, 892), cbox=(335, 719, 892)),
    dict(title='(h) NDVI Dependency Plot', pts=h_pts, sx=h_smooth_x, sy=h_smooth_y, clabel='T_14d',
         cmap=shap_cmap, cr=(12.4, 30.2), cticks=[15, 20, 25, 30], cfmt='{:.0f}',
         xlim=(-0.0357, 0.3765), ylim=(-0.36, 0.52), xticks=[0.0, 0.1, 0.2, 0.3],
         yticks=[-0.2, 0.0, 0.2, 0.4], yfmt='{:.1f}', xfmt='{:.1f}', leg='upper left',
         box=(444, 719, 713, 892), cbox=(731, 719, 892)),
]

W, H = 779, 924
fig = plt.figure(figsize=(W / 100, H / 100), dpi=100)
spine_col = '#888888'

for p in panels:
    l, t, r, b = p['box']
    ax = fig.add_axes([l / W, 1 - b / H, (r - l) / W, (b - t) / H])
    xs = [q[0] for q in p['pts']]
    ys = [q[1] for q in p['pts']]
    cs = [q[2] for q in p['pts']]
    sc = ax.scatter(xs, ys, c=cs, cmap=p['cmap'], vmin=p['cr'][0], vmax=p['cr'][1],
                    s=12, linewidths=0, zorder=2)
    ax.plot(p['sx'], p['sy'], color='#0a7d0a', lw=2.0, label='Descriptive smooth', zorder=3)
    ax.set_xlim(*p['xlim'])
    ax.set_ylim(*p['ylim'])
    ax.set_xticks(p['xticks'])
    ax.set_yticks(p['yticks'])
    if 'xfmt' in p:
        ax.set_xticklabels([p['xfmt'].format(v).replace('-', '\u2212') for v in p['xticks']])
    ax.set_yticklabels([p['yfmt'].format(v).replace('-', '\u2212') for v in p['yticks']])
    for s in ['top', 'right']:
        ax.spines[s].set_visible(False)
    for s in ['left', 'bottom']:
        ax.spines[s].set_color(spine_col)
        ax.spines[s].set_linewidth(0.9)
    ax.tick_params(labelsize=9, colors='#333333', length=0)
    ax.tick_params(axis='x', pad=3)
    ax.tick_params(axis='y', pad=4)
    ax.set_title(p['title'], fontsize=11, pad=2)
    ax.set_xlabel('Feature Value', fontsize=9.2, color='#333333', labelpad=0)
    ax.set_ylabel('SHAP Value', fontsize=9.2, color='#333333', labelpad=2)
    ax.legend(loc=p['leg'], fontsize=9.2, frameon=True, fancybox=True, edgecolor='#cccccc',
              borderpad=0.45, handlelength=2.0, borderaxespad=0.4)

    cl, ct, cb_ = p['cbox']
    cax = fig.add_axes([cl / W, 1 - cb_ / H, 2 / W, (cb_ - ct) / H])
    cbar = fig.colorbar(sc, cax=cax)
    cbar.outline.set_visible(False)
    cbar.set_ticks(p['cticks'])
    cbar.set_ticklabels([p['cfmt'].format(v) for v in p['cticks']])
    cbar.ax.tick_params(labelsize=9, length=2, width=0.6, colors='#333333', pad=1)
    cbar.set_label(p['clabel'], fontsize=11.3, labelpad=1)

fig.savefig('out.png', dpi=100)
